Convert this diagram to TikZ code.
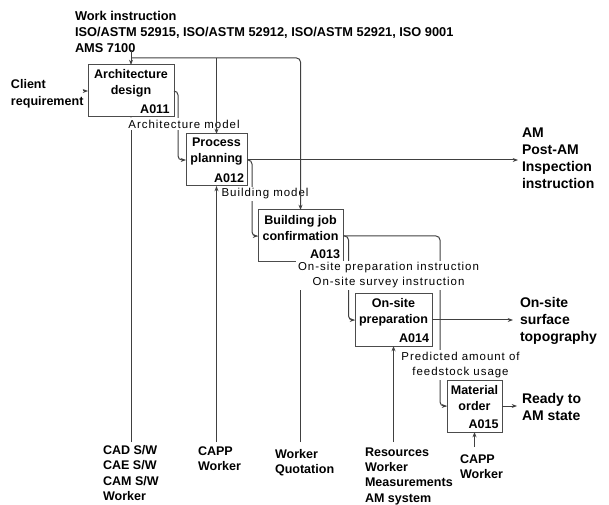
\documentclass[tikz,border=0pt]{standalone}
\usepackage{fontspec}
\setmainfont{Liberation Sans}
\newfontfamily\lblfont[LetterSpace=8.5]{Liberation Sans}
\usetikzlibrary{arrows.meta,calc}

\begin{document}
\begin{tikzpicture}[x=0.75pt,y=-0.75pt,
  every node/.style={inner sep=0pt, outer sep=0pt},
  ln/.style={draw=black!75, line width=0.75pt},
  flow/.style={ln, -{Stealth[length=4pt,width=3pt]}},
  corner/.style={rounded corners=3pt},
  actbox/.style={draw=black!70, line width=0.75pt, fill=white, minimum height=39pt},
  title/.style={font=\bfseries\fontsize{9.4}{12}\selectfont, align=center},
  boxid/.style={font=\bfseries\fontsize{9.4}{12}\selectfont, anchor=east},
  ext/.style={font=\bfseries\fontsize{9.4}{11.5}\selectfont, align=left, anchor=north west},
  big/.style={font=\bfseries\fontsize{10.5}{12.75}\selectfont, align=left, anchor=north west},
  lbl/.style={font=\lblfont\fontsize{8.6}{11.25}\selectfont, align=center, fill=white, inner sep=1.5pt},
]
\useasboundingbox (0,0) rectangle (609,505);

% activity boxes
\node[actbox, minimum width=64.5pt]  (A011) at (131,91) {};
\node[actbox, minimum width=45.75pt] (A012) at (216.5,160) {};
\node[actbox, minimum width=63.75pt] (A013) at (300.5,236) {};
\node[actbox, minimum width=57.75pt] (A014) at (393.5,320) {};
\node[actbox, minimum width=41.25pt] (A015) at (474.5,406) {};

% box titles and numbers
\node[title] (A011t) at ($(A011.center)+(0,-8)$) {Architecture\\design};
\node[title] (A012t) at ($(A012.center)+(0,-8)$) {Process\\planning};
\node[title] (A013t) at ($(A013.center)+(0,-8)$) {Building job\\confirmation};
\node[title] (A014t) at ($(A014.center)+(0,-8)$) {On-site\\preparation};
\node[title] (A015t) at ($(A015.center)+(0,-8)$) {Material\\order};
\node[boxid] (A011n) at ($(A011.south east)+(-4.5,-8)$) {A011};
\node[boxid] (A012n) at ($(A012.south east)+(-3,-8)$) {A012};
\node[boxid] (A013n) at ($(A013.south east)+(-3,-8)$) {A013};
\node[boxid] (A014n) at ($(A014.south east)+(-3,-8)$) {A014};
\node[boxid] (A015n) at ($(A015.south east)+(-3.5,-8)$) {A015};

% controls, inputs, outputs, mechanisms
\node[ext, font=\bfseries\fontsize{9.6}{12}\selectfont] (wi) at (75,11.5)
  {Work instruction\\ISO/ASTM 52915, ISO/ASTM 52912, ISO/ASTM 52921, ISO 9001\\AMS 7100};
\node[ext, font=\bfseries\fontsize{9.4}{12.75}\selectfont] (client) at (11,79.5) {Client\\requirement};
\node[big] (amOut) at (522,128) {AM\\Post-AM\\Inspection\\instruction};
\node[big] (topo) at (520,297) {On-site\\surface\\topography};
\node[big] (ready) at (522,393) {Ready to\\AM state};
\node[ext] (mech1) at (103,445.5) {CAD S/W\\CAE S/W\\CAM S/W\\Worker};
\node[ext] (mech2) at (198,446.5) {CAPP\\Worker};
\node[ext] (mech3) at (275,449) {Worker\\Quotation};
\node[ext] (mech4) at (365,447.5) {Resources\\Worker\\Measurements\\AM system};
\node[ext] (mech5) at (460,454.5) {CAPP\\Worker};

\coordinate (ctlA) at (131,50);
\coordinate (ctlY) at (0,58);
\coordinate (mechY) at (0,442);
\coordinate (mechY5) at (0,447);

% input and outputs
\draw[flow] (client.east |- A011.west) -- (A011.west);
\draw[flow, corner] (A011.east) -- ++(4,0) |- (A012.west);
\draw[flow, shorten >=3pt] (A012.east) -- (A012.east -| amOut.west);
\draw[flow, corner] (A012.east) -- ++(5,0) |- (A013.west);
\draw[flow, corner] (A013.east) -- ++(97,0) |- (A015.west);
\draw[flow, corner] (A013.east) -- ++(5.5,0) |- (A014.west);
\draw[flow, shorten >=5.25pt] (A014.east) -- (A014.east -| topo.west);
\draw[flow, shorten >=3.75pt] (A015.east) -- (A015.east -| ready.west);

% mechanisms
\draw[flow] (A011.south |- mechY) -- (A011.south);
\draw[flow] (A012.south |- mechY) -- (A012.south);
\draw[flow] (A013.south |- mechY) -- (A013.south);
\draw[flow] (A014.south |- mechY) -- (A014.south);
\draw[flow] (A015.south |- mechY5) -- (A015.south);

% flow labels
\node[lbl] (lArch) at (184,124) {Architecture model};
\node[lbl] (lBld) at (265,194) {Building model};
\node[lbl] (lSite) at (388.5,275.5) {On-site preparation instruction\\On-site survey instruction};
\node[lbl] (lFeed) at (460.5,365) {Predicted amount of\\feedstock usage};

% controls
\draw[flow] (ctlA) -- (A011.north);
\draw[flow, corner] (A011.north |- ctlY) -| (A013.north);
\draw[flow] (A012.north |- ctlY) -- (A012.north);
\end{tikzpicture}
\end{document}
